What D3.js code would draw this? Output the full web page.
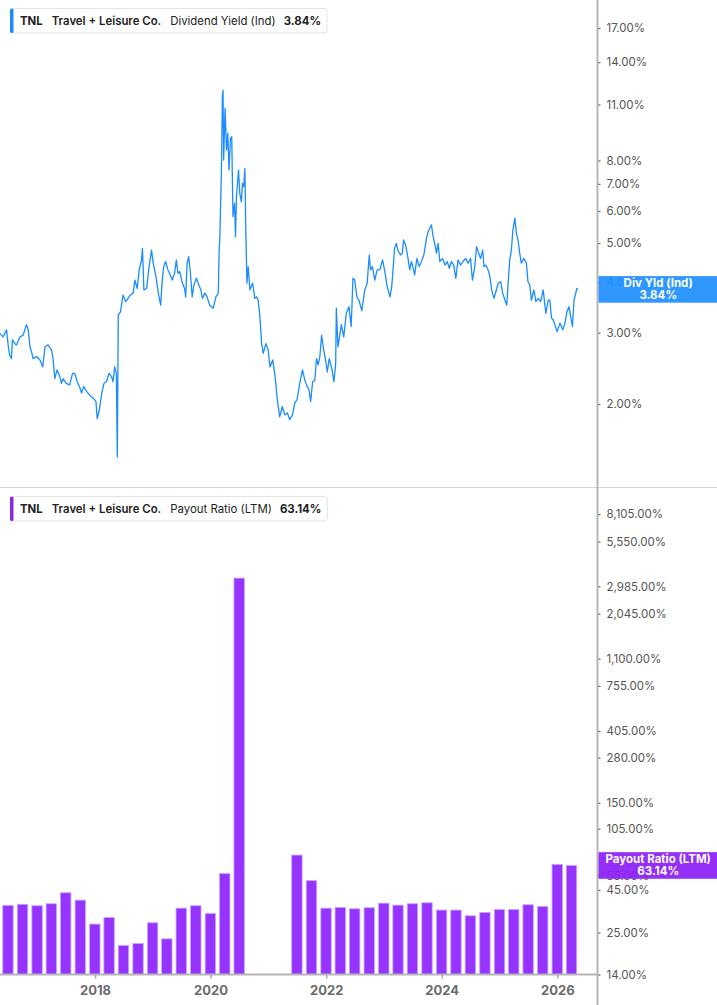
<!DOCTYPE html>
<html><head><meta charset="utf-8">
<script src="https://cdn.jsdelivr.net/npm/d3@7"></script>
<style>
html,body{margin:0;padding:0;background:#fff;}
svg{display:block;font-family:Inter,"Noto Sans",sans-serif;}
</style></head><body>
<svg id="chart" width="717" height="1005"></svg>
<script>
// ---------- DATA ----------
const divDates = ["2016-05-09","2016-05-30","2016-06-21","2016-07-01","2016-07-11","2016-07-22","2016-07-28","2016-08-13","2016-08-23","2016-09-14","2016-10-04","2016-10-25","2016-11-05","2016-11-16","2016-11-26","2016-12-06","2016-12-28","2017-01-18","2017-02-05","2017-02-19","2017-03-10","2017-04-01","2017-04-11","2017-04-22","2017-05-06","2017-05-23","2017-06-03","2017-06-13","2017-07-04","2017-07-25","2017-08-12","2017-08-26","2017-09-11","2017-09-28","2017-10-08","2017-10-22","2017-11-09","2017-11-30","2017-12-20","2018-01-07","2018-01-15","2018-01-28","2018-02-13","2018-02-27","2018-03-14","2018-03-30","2018-04-15","2018-04-25","2018-05-05","2018-05-16","2018-05-22","2018-05-28","2018-06-11","2018-06-27","2018-07-14","2018-07-28","2018-08-13","2018-08-30","2018-09-10","2018-09-25","2018-10-07","2018-10-22","2018-10-28","2018-11-06","2018-11-23","2018-12-09","2018-12-24","2019-01-04","2019-01-21","2019-02-05","2019-02-20","2019-03-01","2019-03-11","2019-03-23","2019-04-07","2019-04-22","2019-05-04","2019-05-19","2019-05-30","2019-06-09","2019-06-20","2019-07-07","2019-07-21","2019-07-28","2019-08-06","2019-08-16","2019-08-27","2019-09-07","2019-09-18","2019-10-04","2019-10-19","2019-11-01","2019-11-11","2019-11-26","2019-12-10","2019-12-27","2020-01-18","2020-02-04","2020-02-19","2020-02-25","2020-02-28","2020-03-10","2020-03-16","2020-03-20","2020-03-24","2020-04-02","2020-04-11","2020-04-19","2020-04-27","2020-05-06","2020-05-14","2020-05-22","2020-06-01","2020-06-07","2020-06-13","2020-06-26","2020-07-04","2020-07-14","2020-07-21","2020-07-29","2020-08-05","2020-08-11","2020-08-18","2020-08-26","2020-09-06","2020-09-23","2020-10-07","2020-10-18","2020-10-28","2020-11-08","2020-11-19","2020-11-29","2020-12-16","2020-12-30","2021-01-11","2021-01-28","2021-02-12","2021-02-26","2021-03-13","2021-03-30","2021-04-14","2021-05-01","2021-05-15","2021-06-02","2021-06-16","2021-07-01","2021-07-18","2021-08-04","2021-08-19","2021-08-30","2021-09-14","2021-09-25","2021-10-07","2021-10-21","2021-11-01","2021-11-11","2021-11-22","2021-12-03","2021-12-13","2021-12-30","2022-01-08","2022-01-20","2022-02-05","2022-02-19","2022-03-02","2022-03-06","2022-03-16","2022-04-07","2022-04-22","2022-05-08","2022-05-25","2022-06-08","2022-06-19","2022-06-30","2022-07-14","2022-07-27","2022-08-14","2022-09-02","2022-09-17","2022-09-30","2022-10-08","2022-10-20","2022-11-04","2022-11-19","2022-12-06","2022-12-23","2023-01-07","2023-01-21","2023-02-08","2023-02-19","2023-02-28","2023-03-09","2023-03-20","2023-03-30","2023-04-15","2023-04-27","2023-05-05","2023-05-18","2023-06-02","2023-06-13","2023-06-23","2023-07-03","2023-07-14","2023-07-28","2023-08-11","2023-08-26","2023-09-10","2023-09-27","2023-10-07","2023-10-17","2023-10-28","2023-11-08","2023-11-18","2023-11-29","2023-12-09","2023-12-20","2024-01-06","2024-01-21","2024-02-05","2024-02-18","2024-03-02","2024-03-17","2024-03-30","2024-04-13","2024-04-29","2024-05-14","2024-06-01","2024-06-16","2024-07-01","2024-07-13","2024-07-28","2024-08-08","2024-08-18","2024-09-03","2024-09-16","2024-09-24","2024-10-06","2024-10-20","2024-11-01","2024-11-11","2024-11-26","2024-12-08","2024-12-23","2025-01-08","2025-01-20","2025-02-04","2025-02-15","2025-02-25","2025-03-06","2025-03-16","2025-03-26","2025-04-07","2025-04-17","2025-04-27","2025-05-08","2025-05-18","2025-06-02","2025-06-19","2025-06-29","2025-07-10","2025-07-21","2025-08-05","2025-08-18","2025-09-02","2025-09-17","2025-10-03","2025-10-20","2025-11-04","2025-11-14","2025-11-25","2025-12-05","2025-12-16","2025-12-30","2026-01-17","2026-02-04","2026-02-18","2026-03-02","2026-03-15","2026-03-24","2026-04-06","2026-04-16","2026-04-27","2026-05-04","2026-05-11"];
const divValues = [2.99,2.93,3.05,2.80,2.64,2.59,2.88,2.82,2.80,2.93,2.96,3.14,3.05,2.77,2.69,2.59,2.62,2.57,2.47,2.77,2.80,2.72,2.59,2.31,2.43,2.34,2.25,2.31,2.25,2.23,2.38,2.38,2.27,2.19,2.13,2.21,2.15,2.10,2.07,2.03,1.84,1.93,2.13,2.25,2.27,2.38,2.34,2.27,2.47,2.38,1.48,3.32,3.38,3.72,3.58,3.65,3.72,3.76,4.05,3.86,4.29,4.54,4.85,3.83,3.86,4.37,4.80,4.46,4.13,3.76,3.51,4.01,4.37,4.50,4.29,4.17,4.05,4.21,4.54,4.21,4.25,3.98,3.86,3.68,4.46,4.63,4.21,3.68,3.94,4.09,3.94,3.83,3.65,3.76,3.68,3.51,3.45,3.68,3.76,4.90,4.99,7.58,11.50,11.94,8.02,10.76,8.49,9.34,7.58,9.07,9.16,5.81,6.27,5.18,6.51,7.58,6.63,6.32,7.02,6.89,7.65,5.38,3.98,4.37,3.83,3.98,3.65,3.68,3.61,3.29,2.82,2.67,2.82,2.72,2.47,2.57,2.34,2.05,1.86,1.97,1.88,1.90,1.83,1.88,2.01,2.05,2.25,2.43,2.29,2.23,2.17,2.03,2.27,2.29,2.59,2.50,2.62,2.96,2.77,2.54,2.40,2.59,2.45,2.27,2.52,3.45,2.77,3.14,2.93,3.35,3.48,3.11,4.09,4.05,3.68,3.61,3.40,3.83,3.98,4.67,4.29,4.37,4.05,4.29,4.29,4.54,4.25,3.90,3.68,3.90,4.33,4.85,4.99,4.80,4.67,4.72,5.09,4.94,4.58,4.29,4.50,4.37,4.17,4.58,4.37,4.50,4.67,5.14,5.33,5.44,5.54,5.18,4.99,4.72,4.99,4.50,4.58,4.41,4.50,4.33,4.50,4.41,4.09,4.54,4.41,4.50,4.58,4.46,4.58,4.05,4.37,4.90,4.76,4.58,4.80,4.37,4.41,4.29,4.13,3.83,3.65,3.79,3.98,4.01,3.76,3.61,3.51,4.05,4.54,4.80,5.38,5.76,5.28,5.09,4.72,4.46,4.58,4.46,4.01,3.94,3.61,3.83,3.58,3.65,3.58,3.83,3.35,3.61,3.61,3.26,3.23,3.14,3.02,3.17,3.05,3.17,3.38,3.48,3.32,3.11,3.61,3.76,3.86,3.84];

const payoutQuarters = ["2016-06-30","2016-09-30","2016-12-31","2017-03-31","2017-06-30","2017-09-30","2017-12-31","2018-03-31","2018-06-30","2018-09-30","2018-12-31","2019-03-31","2019-06-30","2019-09-30","2019-12-31","2020-03-31","2020-06-30","2020-09-30","2020-12-31","2021-03-31","2021-06-30","2021-09-30","2021-12-31","2022-03-31","2022-06-30","2022-09-30","2022-12-31","2023-03-31","2023-06-30","2023-09-30","2023-12-31","2024-03-31","2024-06-30","2024-09-30","2024-12-31","2025-03-31","2025-06-30","2025-09-30","2025-12-31","2026-03-31"];
const payoutValues = [36.4,36.9,36.2,37.2,43.3,39.1,28.1,30.8,20.9,21.5,28.6,22.9,35.0,36.2,32.5,56.4,3346,null,null,null,72.9,51.2,35.0,35.4,34.7,35.2,37.5,36.5,37.2,37.7,34.1,34.1,31.5,33.0,34.3,34.4,36.7,35.9,64.1,63.14];

const yieldTicks = [2,3,4,5,6,7,8,11,14,17];
const payoutTicks = [14,25,45,55,105,150,280,405,755,1100,2045,2985,5550,8105];
const xTickDates = ["2018-01-01","2020-01-01","2022-01-01","2024-01-01","2026-01-01"];

const ticker = "TNL", company = "Travel + Leisure Co.";
const yieldName = "Dividend Yield (Ind)", yieldShort = "Div Yld (Ind)", latestYield = 3.84;
const payoutName = "Payout Ratio (LTM)", latestPayout = 63.14;

// ---------- CHART ----------
const W = 717, H = 1005, axisX = 597.5, sepY = 487.5, baseY = 974.5;
const blue = "#1a8cff", purple = "#9633ff", purpleLabel = "#8c1ff8", blueLabel = "#1f8fff";
const parse = d3.timeParse("%Y-%m-%d");
const svg = d3.select("#chart");

const x = d3.scaleTime().domain([parse("2018-01-01"), parse("2026-01-01")]).range([95, 557.4]);
const yTop = d3.scaleLog().domain([1.247, 19.94]).range([487, 0]);
const yBot = d3.scaleLog().domain([14, 11620]).range([baseY, 488]);
const pct = d => d3.format(",.2f")(d) + "%";

svg.append("defs").append("clipPath").attr("id","clipTop")
  .append("rect").attr("x",0).attr("y",0).attr("width",axisX).attr("height",487);

// separator
svg.append("line").attr("x1",0).attr("x2",W).attr("y1",sepY).attr("y2",sepY)
  .attr("stroke","#d4d4d4").attr("stroke-width",1);

// bars
const quarterW = x(parse("2018-04-01")) - x(parse("2018-01-01"));
const barW = quarterW * 0.73;
const bars = payoutQuarters.map((d,i)=>({date:parse(d), v:payoutValues[i]})).filter(d=>d.v!=null);
svg.append("g").selectAll("rect").data(bars).join("rect")
  .attr("x", d => x(d.date) - barW/2)
  .attr("width", barW)
  .attr("y", d => yBot(d.v))
  .attr("height", d => baseY - yBot(d.v))
  .attr("fill", purple)
  .attr("stroke", "#c7a3ff").attr("stroke-width", 0.8);

// yield line
const lineData = divDates.map((d,i)=>({date:parse(d), v:divValues[i]}));
svg.append("path").datum(lineData)
  .attr("clip-path","url(#clipTop)")
  .attr("fill","none").attr("stroke",blue).attr("stroke-width",1.3)
  .attr("stroke-linejoin","round")
  .attr("d", d3.line().x(d=>x(d.date)).y(d=>yTop(d.v)));

// right axes
function styleAxis(g){
  g.select(".domain").remove();
  g.selectAll(".tick line").attr("stroke","#666").attr("stroke-width",1.2);
  g.selectAll(".tick text").attr("fill","#555").attr("font-size","11.5px")
    .attr("font-family","Inter, 'Noto Sans', sans-serif");
}
svg.append("g").attr("transform",`translate(${axisX},0)`)
  .call(d3.axisRight(yTop).tickValues(yieldTicks).tickSize(3).tickPadding(6).tickFormat(pct))
  .call(styleAxis);
svg.append("g").attr("transform",`translate(${axisX},0)`)
  .call(d3.axisRight(yBot).tickValues(payoutTicks).tickSize(3).tickPadding(6).tickFormat(pct))
  .call(styleAxis);

svg.append("line").attr("x1",axisX).attr("x2",axisX).attr("y1",0).attr("y2",H)
  .attr("stroke","#b5b5b5").attr("stroke-width",2);

// x axis
const xg = svg.append("g").attr("transform",`translate(0,${baseY})`)
  .call(d3.axisBottom(x).tickValues(xTickDates.map(parse)).tickSize(4).tickPadding(7)
    .tickFormat(d3.timeFormat("%Y")));
xg.select(".domain").remove();
xg.selectAll(".tick line").attr("stroke","#aaa").attr("stroke-width",1.5);
xg.selectAll(".tick text").attr("fill","#6b6b6b").attr("font-size","13px").attr("font-weight","700")
  .attr("font-family","Inter, 'Noto Sans', sans-serif");
svg.append("line").attr("x1",0).attr("x2",axisX).attr("y1",baseY).attr("y2",baseY)
  .attr("stroke","#b5b5b5").attr("stroke-width",2);

// value labels on axis
function valueBox(yc, color, l1, l2){
  const g = svg.append("g");
  g.append("rect").attr("x",axisX+1).attr("y",yc-13.3).attr("width",W-axisX-1).attr("height",26.6)
    .attr("fill",color).attr("opacity",0.93);
  g.append("text").attr("x",(axisX+W)/2+1).attr("y",yc-2).attr("text-anchor","middle")
    .attr("fill","#fff").attr("font-size","11.5px").attr("font-weight","700").text(l1);
  g.append("text").attr("x",(axisX+W)/2+1).attr("y",yc+9.5).attr("text-anchor","middle")
    .attr("fill","#fff").attr("font-size","11.5px").attr("font-weight","700").text(l2);
}
valueBox(yTop(latestYield), blueLabel, yieldShort, pct(latestYield));
valueBox(yBot(latestPayout), purpleLabel, payoutName, pct(latestPayout));

// legends
function legend(y0, color, name, val){
  const g = svg.append("g");
  const box = g.append("rect").attr("x",10.5).attr("y",y0).attr("height",24.5).attr("rx",3)
    .attr("fill","#fff").attr("stroke","#e4e4e4");
  const t = g.append("text").attr("x",20).attr("y",y0+16.8).attr("font-size","11.4px").attr("fill","#222");
  t.append("tspan").attr("font-weight","700").text(ticker);
  t.append("tspan").attr("dx",9).attr("font-weight","600").text(company);
  t.append("tspan").attr("dx",9).attr("font-weight","400").text(name);
  t.append("tspan").attr("dx",8).attr("font-weight","700").text(val);
  const bb = t.node().getBBox();
  box.attr("width", bb.x + bb.width + 6 - 10.5);
  g.append("rect").attr("x",10).attr("y",y0).attr("width",3.5).attr("height",24.5).attr("rx",1.5).attr("fill",color);
}
legend(8.5, blue, yieldName, pct(latestYield));
legend(496.5, "#8a2be2", payoutName, pct(latestPayout));
</script>
</body></html>
